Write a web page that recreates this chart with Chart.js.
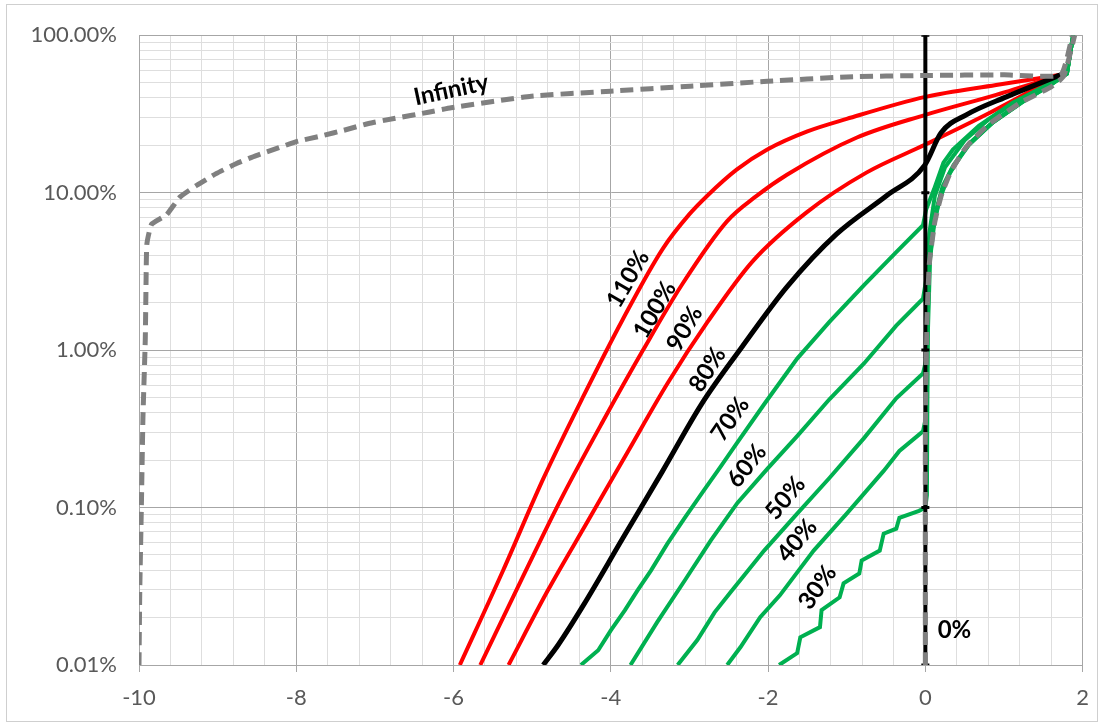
<!DOCTYPE html>
<html>
<head>
<meta charset="utf-8">
<script src="https://cdn.jsdelivr.net/npm/chart.js@4.4.1/dist/chart.umd.min.js"></script>
<style>
  html, body { margin: 0; padding: 0; background: #fff; }
  #frame { position: absolute; left: 6px; top: 4px; width: 1090px; height: 716px; border: 1px solid #cfcfcf; }
  #chart { position: absolute; left: 0; top: 0; }
</style>
</head>
<body>
<div id="frame"></div>
<canvas id="chart" width="1102" height="725"></canvas>
<script>
// x = shift value, y = probability in percent (log axis)
const yDecades = [0.01, 0.1, 1, 10, 100];

const red110 = [[-5.92,0.01],[-5.37,0.0398],[-4.86,0.152],[-4.35,0.508],[-3.85,1.56],[-3.34,4.4],[-3.00,7.3],[-2.77,9.6],[-2.40,14.0],[-2.01,18.8],[-1.50,24.5],[-1.00,29.4],[0.00,40.6],[0.90,48.3],[1.72,56]];
const red100 = [[-5.66,0.01],[-5.11,0.0371],[-4.61,0.119],[-4.10,0.353],[-3.59,1.0],[-3.09,2.63],[-2.52,6.6],[-2.15,9.5],[-1.76,13.0],[-0.87,22.4],[0.00,31.2],[0.90,41.8],[1.72,56]];
const red90 = [[-5.30,0.01],[-4.80,0.0298],[-4.29,0.0824],[-3.78,0.228],[-3.28,0.614],[-2.77,1.51],[-2.20,3.65],[-1.51,7.5],[-0.75,13.4],[0.00,20.2],[0.77,31.2],[1.72,56]];
const black80 = [[-4.86,0.01],[-4.67,0.0134],[-4.35,0.0239],[-3.85,0.0635],[-3.34,0.171],[-2.84,0.459],[-2.33,1.05],[-1.76,2.52],[-1.13,5.45],[-0.49,9.6],[-0.01,14.9],[0.20,24.0],[0.52,31.2],[1.03,40.6],[1.72,56]];
const green70 = [[-4.38,0.01],[-4.16,0.0124],[-4.00,0.0166],[-3.82,0.0223],[-3.66,0.0298],[-3.49,0.0398],[-3.28,0.059],[-3.06,0.0861],[-2.81,0.13],[-2.61,0.18],[-2.39,0.259],[-2.05,0.453],[-1.63,0.883],[-1.22,1.51],[-0.78,2.59],[-0.37,4.19],[-0.03,6.21],[0.01,7.8],[0.11,10.5],[0.23,15.5],[0.35,18.8],[0.68,26.6],[1.11,37.2],[1.53,47.6],[1.80,57],[1.88,100]];
const green60 = [[-3.75,0.01],[-3.41,0.0187],[-3.06,0.0344],[-2.73,0.0617],[-2.39,0.107],[-2.01,0.176],[-1.63,0.284],[-1.22,0.487],[-0.78,0.822],[-0.37,1.43],[-0.03,2.12],[0.02,3.0],[0.05,5.5],[0.12,9.5],[0.25,14.5],[0.5,21.5],[0.8,29],[1.2,39],[1.55,48.5],[1.80,57],[1.88,100]];
const green50 = [[-3.15,0.01],[-2.90,0.0144],[-2.68,0.0216],[-2.48,0.0289],[-2.05,0.0533],[-1.63,0.0914],[-1.22,0.154],[-0.78,0.276],[-0.37,0.494],[-0.03,0.711],[0.02,0.9],[0.03,2.5],[0.06,4.5],[0.13,7.5],[0.22,11],[0.36,15],[0.58,21],[0.88,28.5],[1.26,38.5],[1.6,49],[1.80,57],[1.88,100]];
const green40 = [[-2.52,0.01],[-2.35,0.013],[-2.10,0.0201],[-1.85,0.0277],[-1.42,0.0533],[-1.00,0.0914],[-0.53,0.171],[-0.33,0.229],[-0.03,0.305],[0.02,0.4],[0.03,1.5],[0.05,3.5],[0.1,6],[0.18,9],[0.3,13],[0.52,19.5],[0.82,27],[1.22,37.5],[1.58,48],[1.80,57],[1.88,100]];
const green30 = [[-1.86,0.01],[-1.63,0.0119],[-1.59,0.015],[-1.34,0.0174],[-1.32,0.0223],[-1.09,0.0269],[-1.04,0.033],[-0.84,0.0381],[-0.81,0.0461],[-0.58,0.0533],[-0.53,0.0683],[-0.37,0.0734],[-0.33,0.0861],[-0.08,0.0953],[0.00,0.1],[0.02,0.12],[0.03,1.2],[0.06,3.8],[0.12,6.8],[0.2,10],[0.33,14],[0.55,20],[0.86,28],[1.25,38],[1.6,48.5],[1.80,57],[1.88,100]];
const grey0 = [[0,0.01],[0,0.3],[0.02,1.5],[0.05,3.5],[0.12,6.5],[0.2,9.5],[0.32,13.5],[0.52,19.5],[0.8,27],[1.2,37],[1.6,47],[1.76,55],[1.9,100]];
const infinity = [[-10.0,0.01],[-9.99,0.03],[-9.97,0.1],[-9.95,0.37],[-9.92,1.18],[-9.91,2.79],[-9.90,4.71],[-9.84,6.3],[-9.65,7.23],[-9.48,9.37],[-9.27,11.1],[-9.02,13.2],[-8.76,15.3],[-8.51,17.2],[-8.22,19.3],[-8.0,21.1],[-7.67,23.0],[-7.37,25.1],[-7.08,27.5],[-6.74,29.7],[-6.32,32.4],[-6.03,34.6],[-5.01,41.0],[-4.0,44.1],[-2.99,47.4],[-2.01,51.0],[-1.0,54.3],[0,55.5],[1.0,56],[1.72,56],[1.87,100]];
const zeroLine = [[0,0.01],[0,0.1],[0,1],[0,10],[0,100]];

// curve labels: text, x, y(%), angle
const curveLabels = [
  ["Infinity", -6.03, 44.9, -12],
  ["110%", -3.78, 2.83, -60],
  ["100%", -3.44, 1.80, -60],
  ["90%", -3.06, 1.37, -60],
  ["80%", -2.77, 0.753, -58],
  ["70%", -2.48, 0.364, -55],
  ["60%", -2.27, 0.184, -52],
  ["50%", -1.78, 0.115, -50],
  ["40%", -1.63, 0.0617, -50],
  ["30%", -1.37, 0.0311, -55],
  ["0%", 0.37, 0.0166, 0]
];

const RED = "#ff0000";
const GREEN = "#00b050";
const GREY = "#808080";
const MAJOR = "#a6a6a6";
const MINOR = "#dedede";

function toXY(arr) {
  return arr.map((p) => ({ x: p[0], y: p[1] }));
}

function solid(data, color, width, order, smooth) {
  const ds = {
    data: toXY(data),
    borderColor: color,
    borderWidth: width,
    pointRadius: 0,
    order
  };
  if (smooth) ds.cubicInterpolationMode = "monotone";
  return ds;
}

function dashed(data, order) {
  return {
    data: toXY(data),
    borderColor: GREY,
    borderWidth: 5,
    borderDash: [13, 7],
    pointRadius: 0,
    tension: 0.15,
    order
  };
}

const isMajorX = (v) => Math.abs(v / 2 - Math.round(v / 2)) < 1e-6;
const isMajorY = (v) => Math.abs(Math.log10(v) - Math.round(Math.log10(v))) < 1e-6;

const yTicks = [];
yDecades.forEach((d, i) => {
  if (i === yDecades.length - 1) {
    yTicks.push({ value: d });
    return;
  }
  for (let m = 1; m <= 9; m++) yTicks.push({ value: +(d * m).toPrecision(6) });
});

const labelPlugin = {
  id: "curveLabels",
  afterDatasetsDraw(chart) {
    const { ctx, scales } = chart;
    ctx.save();
    ctx.fillStyle = "#000";
    ctx.font = "bold 24px Lato, 'Open Sans', sans-serif";
    ctx.textAlign = "center";
    ctx.textBaseline = "middle";
    curveLabels.forEach(([text, x, y, angle]) => {
      ctx.save();
      ctx.translate(scales.x.getPixelForValue(x), scales.y.getPixelForValue(y));
      ctx.rotate((angle * Math.PI) / 180);
      ctx.fillText(text, 0, 0);
      ctx.restore();
    });
    ctx.restore();
  }
};

new Chart(document.getElementById("chart"), {
  type: "line",
  data: {
    datasets: [
      dashed(grey0, 1),
      dashed(infinity, 2),
      {
        data: toXY(zeroLine),
        borderColor: "#000",
        borderWidth: 4,
        pointStyle: "line",
        pointRadius: 4,
        pointBorderWidth: 3,
        pointBorderColor: "#000",
        order: 3
      },
      solid(black80, "#000", 5, 4, true),
      solid(green30, GREEN, 4, 5, false),
      solid(green40, GREEN, 4, 6, false),
      solid(green50, GREEN, 4, 7, false),
      solid(green60, GREEN, 4, 8, false),
      solid(green70, GREEN, 4, 9, false),
      solid(red90, RED, 4, 10, true),
      solid(red100, RED, 4, 11, true),
      solid(red110, RED, 4, 12, true)
    ]
  },
  options: {
    responsive: false,
    animation: false,
    events: [],
    layout: { padding: { top: 32, right: 14, left: 0, bottom: 0 } },
    plugins: { legend: { display: false }, tooltip: { enabled: false } },
    scales: {
      x: {
        type: "linear",
        min: -10,
        max: 2,
        afterFit: (s) => { s.height = 60; },
        ticks: {
          stepSize: 0.4,
          autoSkip: false,
          maxRotation: 0,
          padding: 13,
          color: "#595959",
          font: { family: "Lato, 'Open Sans', sans-serif", size: 22 },
          callback: (v) => (isMajorX(v) ? String(Math.round(v)) : "")
        },
        grid: {
          color: (c) => (isMajorX(c.tick.value) ? MAJOR : MINOR),
          tickColor: (c) => (isMajorX(c.tick.value) ? MAJOR : "rgba(0,0,0,0)"),
          tickLength: 7,
          lineWidth: 1
        },
        border: { color: MAJOR, width: 1 }
      },
      y: {
        type: "logarithmic",
        min: 0.01,
        max: 100,
        afterFit: (s) => { s.width = 139; },
        afterBuildTicks: (s) => { s.ticks = yTicks.map((t) => ({ value: t.value })); },
        ticks: {
          autoSkip: false,
          padding: 22,
          color: "#595959",
          font: { family: "Lato, 'Open Sans', sans-serif", size: 22 },
          callback: (v) => (isMajorY(v) ? v.toFixed(2) + "%" : "")
        },
        grid: {
          drawTicks: false,
          color: (c) => (isMajorY(c.tick.value) ? MAJOR : MINOR),
          lineWidth: 1
        },
        border: { color: MAJOR, width: 1 }
      }
    }
  },
  plugins: [labelPlugin]
});
</script>
</body>
</html>
